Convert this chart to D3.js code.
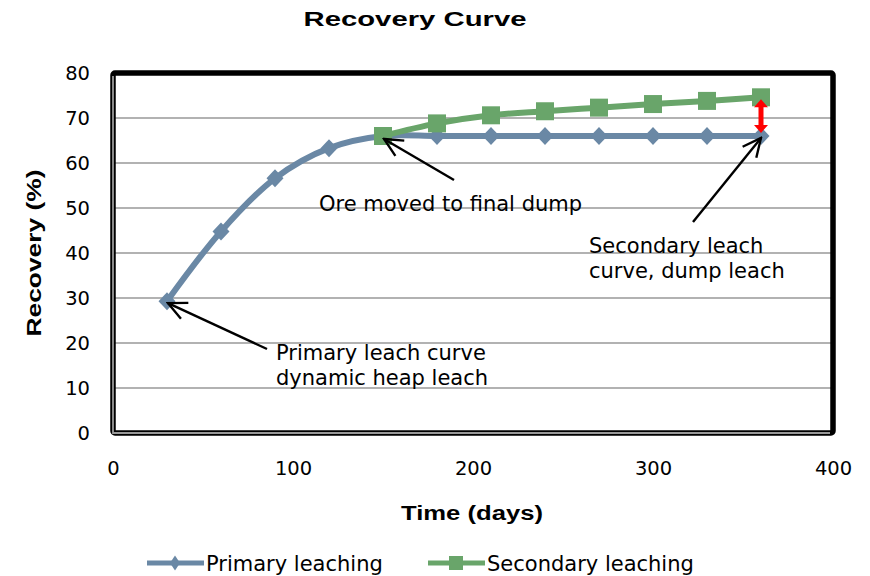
<!DOCTYPE html>
<html><head><meta charset="utf-8">
<script src="https://cdn.jsdelivr.net/npm/d3@7"></script>
<style>body{margin:0;background:#fff;} text{font-family:"DejaVu Sans",Verdana,sans-serif;}</style>
</head><body>
<svg id="c" width="870" height="576"></svg>
<script>
const primaryDays = [30, 60, 90, 120, 150, 180, 210, 240, 270, 300, 330, 360];
const primaryRecovery = [29.3, 44.8, 56.6, 63.3, 66.0, 66.0, 66.0, 66.0, 66.0, 66.0, 66.0, 66.0];
const secondaryDays = [150, 180, 210, 240, 270, 300, 330, 360];
const secondaryRecovery = [66.0, 68.8, 70.6, 71.5, 72.3, 73.1, 73.8, 74.6];
const xTicks = [0, 100, 200, 300, 400];
const yTicks = [0, 10, 20, 30, 40, 50, 60, 70, 80];
const seriesNames = ["Primary leaching", "Secondary leaching"];
const colors = ["#6a88a5", "#69a56a"];

const svg = d3.select("#c");
const L = 113, R = 833, T = 73, B = 433;
const x = d3.scaleLinear().domain([0, 400]).range([L, R]);
const y = d3.scaleLinear().domain([0, 80]).range([B, T]);

// gridlines
svg.append("g").selectAll("line").data(yTicks.slice(1, -1)).join("line")
  .attr("x1", L).attr("x2", R).attr("y1", d => y(d)).attr("y2", d => y(d))
  .attr("stroke", "#999").attr("stroke-width", 1.5);

// axes (labels)
const yAxis = svg.append("g").attr("transform", `translate(${L},0)`)
  .call(d3.axisLeft(y).tickValues(yTicks).tickSize(0).tickPadding(23));
yAxis.select(".domain").remove();
yAxis.selectAll("text").attr("font-size", 19.5).attr("fill", "#000").style("font-family", "DejaVu Sans");
const xAxis = svg.append("g").attr("transform", `translate(0,${B})`)
  .call(d3.axisBottom(x).tickValues(xTicks).tickSize(0).tickPadding(28));
xAxis.select(".domain").remove();
xAxis.selectAll("text").attr("font-size", 19.5).attr("fill", "#000").style("font-family", "DejaVu Sans");

// frame
svg.append("rect").attr("x", L).attr("y", T).attr("width", R - L).attr("height", B - T).attr("rx", 2)
  .attr("fill", "none").attr("stroke", "#000").attr("stroke-width", 5.5);
svg.append("path").attr("d", `M${L},${T+3}V${B}H${R-3}`).attr("fill", "none")
  .attr("stroke", "#999").attr("stroke-width", 1.8);

// series
const pData = primaryDays.map((d, i) => [d, primaryRecovery[i]]);
const sData = secondaryDays.map((d, i) => [d, secondaryRecovery[i]]);
const lineSmooth = d3.line().x(d => x(d[0])).y(d => y(d[1])).curve(d3.curveCatmullRom.alpha(0.5));
const diamond = (w, h) => `M0,${-h/2}L${w/2},0L0,${h/2}L${-w/2},0Z`;

svg.append("path").datum(pData).attr("d", lineSmooth).attr("fill", "none")
  .attr("stroke", colors[0]).attr("stroke-width", 6);
svg.append("g").selectAll("path").data(pData).join("path")
  .attr("d", diamond(17, 18)).attr("transform", d => `translate(${x(d[0])},${y(d[1])})`)
  .attr("fill", colors[0]);

svg.append("path").datum(sData).attr("d", lineSmooth).attr("fill", "none")
  .attr("stroke", colors[1]).attr("stroke-width", 6);
svg.append("g").selectAll("rect").data(sData).join("rect")
  .attr("x", d => x(d[0]) - 9).attr("y", d => y(d[1]) - 9).attr("width", 18).attr("height", 18)
  .attr("fill", colors[1]);

// red double arrow between the two series at the last day
{
  const cx = x(360), top = y(secondaryRecovery[7]) + 2, bot = y(primaryRecovery[11]) - 3;
  const hw = 7, hl = 8, sw = 2.5;
  svg.append("path").attr("fill", "#f00").attr("d",
    `M${cx},${top}L${cx+hw},${top+hl}L${cx+sw},${top+hl}L${cx+sw},${bot-hl}L${cx+hw},${bot-hl}` +
    `L${cx},${bot}L${cx-hw},${bot-hl}L${cx-sw},${bot-hl}L${cx-sw},${top+hl}L${cx-hw},${top+hl}Z`);
}

// annotations
const defs = svg.append("defs");
defs.append("marker").attr("id", "openhead").attr("viewBox", "0 0 12 12").attr("refX", 11).attr("refY", 6)
  .attr("markerWidth", 22).attr("markerHeight", 22).attr("markerUnits", "userSpaceOnUse").attr("orient", "auto")
  .append("path").attr("d", "M1,1.2L11,6L1,10.8").attr("fill", "none").attr("stroke", "#000").attr("stroke-width", 1.3);

function arrow(x1, y1, x2, y2) {
  svg.append("line").attr("x1", x1).attr("y1", y1).attr("x2", x2).attr("y2", y2)
    .attr("stroke", "#000").attr("stroke-width", 2.4).attr("marker-end", "url(#openhead)");
}
arrow(267, 349, x(30) + 1, y(29.3) + 2);
arrow(454, 180, x(150) + 1, y(66) + 3);
arrow(693, 222, x(360), y(66) + 2);

function label(lines, lx, ly) {
  const t = svg.append("text").attr("x", lx).attr("y", ly).attr("font-size", 21).attr("fill", "#000");
  lines.forEach((s, i) => t.append("tspan").attr("x", lx).attr("dy", i ? 25 : 0).text(s));
}
label(["Primary leach curve", "dynamic heap leach"], 276, 360);
label(["Ore moved to final dump"], 319, 211);
label(["Secondary leach", "curve, dump leach"], 589, 253);

// titles
const boldFont = "'Liberation Sans', Arial, sans-serif";
svg.append("text").attr("x", 415).attr("y", 26).attr("text-anchor", "middle").style("font-family", boldFont)
  .attr("font-size", 20).attr("font-weight", "bold")
  .attr("textLength", 223).attr("lengthAdjust", "spacingAndGlyphs").text("Recovery Curve");
svg.append("text").attr("x", 472).attr("y", 520).attr("text-anchor", "middle").style("font-family", boldFont)
  .attr("font-size", 19.5).attr("font-weight", "bold")
  .attr("textLength", 142).attr("lengthAdjust", "spacingAndGlyphs").text("Time (days)");
svg.append("text").attr("transform", "translate(41,253) rotate(-90)").attr("text-anchor", "middle").style("font-family", boldFont)
  .attr("font-size", 19.5).attr("font-weight", "bold")
  .attr("textLength", 167).attr("lengthAdjust", "spacingAndGlyphs").text("Recovery (%)");

// legend
const leg = [{x0: 147, c: colors[0], sym: "d"}, {x0: 428, c: colors[1], sym: "s"}];
leg.forEach((l, i) => {
  const g = svg.append("g");
  g.append("line").attr("x1", l.x0).attr("x2", l.x0 + 57).attr("y1", 563).attr("y2", 563)
    .attr("stroke", l.c).attr("stroke-width", 5);
  if (l.sym === "d") g.append("path").attr("d", diamond(10, 15)).attr("transform", `translate(${l.x0 + 28},563)`).attr("fill", l.c);
  else g.append("rect").attr("x", l.x0 + 21).attr("y", 556).attr("width", 14).attr("height", 14).attr("fill", l.c);
  g.append("text").attr("x", l.x0 + 59).attr("y", 571).attr("font-size", 21).text(seriesNames[i]);
});
</script>
</body></html>
